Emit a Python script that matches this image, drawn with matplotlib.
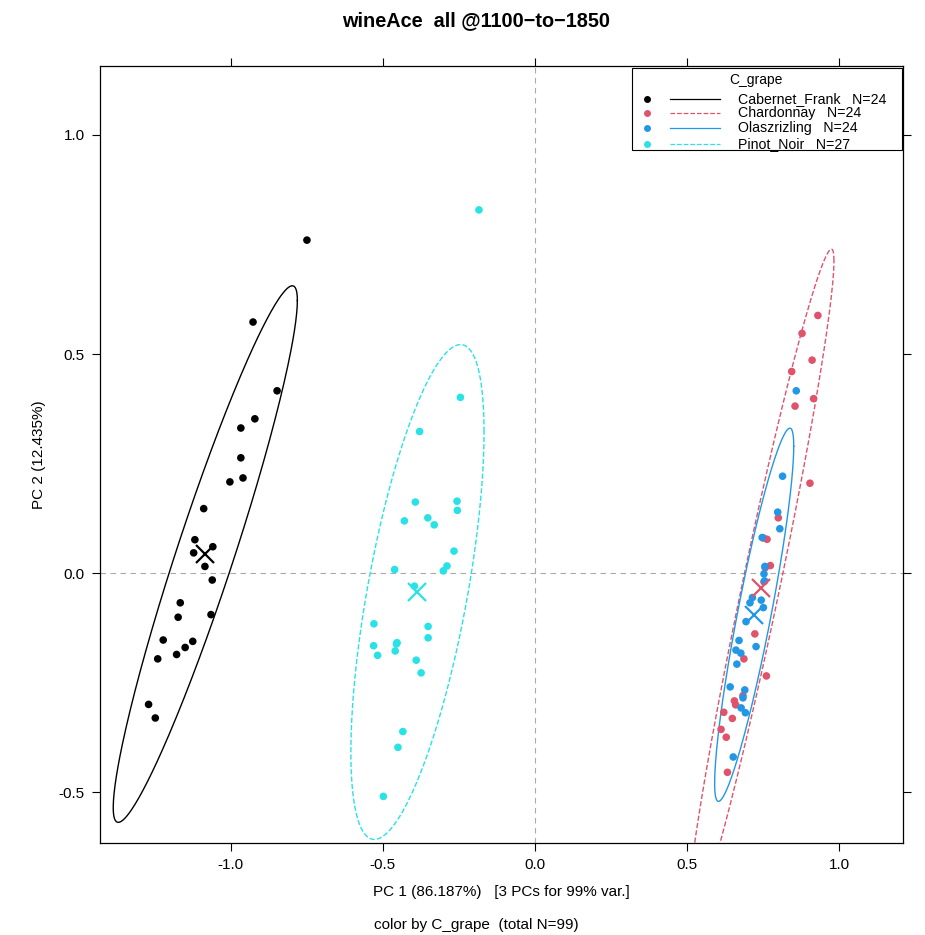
import numpy as np
import matplotlib
matplotlib.use("Agg")
import matplotlib.pyplot as plt

plt.rcParams['font.family'] = ['Liberation Sans', 'DejaVu Sans']

# PCA scores, one pair of arrays per grape
groups = ["Cabernet_Frank", "Chardonnay", "Olaszrizling", "Pinot_Noir"]
colors = ["#000000", "#DF536B", "#2297E6", "#28E2E5"]
styles = ["-", "--", "-", "--"]

cab_x = [-0.749, -0.926, -0.847, -0.920, -0.966, -0.966, -0.959, -1.002, -1.088, -1.117,
         -1.058, -1.121, -1.084, -1.060, -1.165, -1.172, -1.064, -1.221, -1.124, -1.149,
         -1.177, -1.239, -1.269, -1.247]
cab_y = [0.760, 0.573, 0.416, 0.352, 0.331, 0.263, 0.217, 0.208, 0.147, 0.076,
         0.060, 0.046, 0.015, -0.016, -0.068, -0.101, -0.095, -0.153, -0.156, -0.170,
         -0.186, -0.196, -0.300, -0.331]

char_x = [0.929, 0.877, 0.910, 0.843, 0.915, 0.854, 0.903, 0.799, 0.762, 0.773,
          0.722, 0.686, 0.760, 0.683, 0.655, 0.659, 0.620, 0.648, 0.611, 0.628,
          0.632, 0.750, 0.756, 0.752]
char_y = [0.588, 0.547, 0.486, 0.460, 0.398, 0.381, 0.205, 0.126, 0.077, 0.017,
          -0.139, -0.196, -0.235, -0.280, -0.292, -0.301, -0.318, -0.332, -0.357, -0.375,
          -0.455, 0.080, 0.012, -0.020]

olasz_x = [0.858, 0.813, 0.797, 0.804, 0.746, 0.755, 0.752, 0.754, 0.714, 0.743,
           0.706, 0.750, 0.693, 0.670, 0.726, 0.660, 0.676, 0.663, 0.641, 0.689,
           0.677, 0.691, 0.651, 0.683]
olasz_y = [0.416, 0.221, 0.139, 0.101, 0.081, 0.015, -0.002, -0.018, -0.056, -0.062,
           -0.068, -0.079, -0.111, -0.154, -0.168, -0.176, -0.183, -0.208, -0.260, -0.267,
           -0.308, -0.319, -0.420, -0.285]

pinot_x = [-0.184, -0.245, -0.379, -0.393, -0.256, -0.255, -0.429, -0.352, -0.331, -0.266,
           -0.289, -0.301, -0.461, -0.396, -0.529, -0.351, -0.351, -0.530, -0.453, -0.459,
           -0.517, -0.390, -0.374, -0.434, -0.450, -0.498, -0.455]
pinot_y = [0.829, 0.401, 0.323, 0.162, 0.164, 0.143, 0.119, 0.126, 0.110, 0.050,
           0.016, 0.005, 0.008, -0.030, -0.116, -0.122, -0.148, -0.166, -0.159, -0.178,
           -0.188, -0.199, -0.228, -0.362, -0.398, -0.510, -0.162]

xs = [cab_x, char_x, olasz_x, pinot_x]
ys = [cab_y, char_y, olasz_y, pinot_y]


def robust_cov(xy, nu=5, iters=200):
    # multivariate t estimate of centre and scatter (like MASS::cov.trob)
    c = xy.mean(0)
    S = np.cov(xy.T)
    for _ in range(iters):
        d = xy - c
        m = np.einsum('ij,jk,ik->i', d, np.linalg.inv(S), d)
        w = (nu + 2) / (nu + m)
        c = (w[:, None] * xy).sum(0) / w.sum()
        d = xy - c
        S = np.einsum('i,ij,ik->jk', w, d, d) / len(xy)
    return c, S


fig = plt.figure(figsize=(9.25, 9.35), dpi=100)
ax = fig.add_axes([0.1081, 0.0984, 0.8681, 0.831])

ax.axhline(0, color="#aaaaaa", lw=0.8, ls=(0, (5, 4)), zorder=0)
ax.axvline(0, color="#aaaaaa", lw=0.8, ls=(0, (5, 4)), zorder=0)

t = np.linspace(0, 2 * np.pi, 300)
r = np.sqrt(6.84)
for x, y, col, ls in zip(xs, ys, colors, styles):
    ax.scatter(x, y, s=30, color=col, edgecolors="none", zorder=3)
    xy = np.column_stack([x, y])
    c, S = robust_cov(xy)
    L = np.linalg.cholesky(S)
    e = c[:, None] + r * L @ np.vstack([np.cos(t), np.sin(t)])
    ax.plot(e[0], e[1], color=col, ls=ls, lw=1.0, zorder=2)
    ax.plot(c[0], c[1], marker="x", ms=13, mew=1.6, color=col, zorder=4)

ax.set_xlim(-1.4286, 1.2085)
ax.set_ylim(-0.6164, 1.1575)
ax.set_xticks([-1.0, -0.5, 0.0, 0.5, 1.0])
ax.set_yticks([-0.5, 0.0, 0.5, 1.0])
ax.set_xticklabels(["-1.0", "-0.5", "0.0", "0.5", "1.0"])
ax.set_yticklabels(["-0.5", "0.0", "0.5", "1.0"])
ax.tick_params(direction="out", length=6, width=0.8, labelsize=11,
               top=True, right=True, pad=5)
for s in ax.spines.values():
    s.set_linewidth(0.9)

ax.set_xlabel("PC 1 (86.187%)   [3 PCs for 99% var.]", fontsize=11, labelpad=9)
ax.set_ylabel("PC 2 (12.435%)", fontsize=11, labelpad=9)

fig.text(0.515, 0.978, "wineAce  all @1100\u2212to\u22121850", ha="center", va="center",
         fontsize=14.3, fontweight="bold")
fig.text(0.515, 0.0107, "color by C_grape  (total N=99)", ha="center", va="center", fontsize=11)

# legend box drawn by hand, R style
tr = ax.transAxes
ax.add_patch(plt.Rectangle((0.6625, 0.8919), 0.3363, 0.1055, transform=tr,
                           fill=True, facecolor="white", edgecolor="black", lw=0.8, zorder=5))
ax.text(0.817, 0.982, "C_grape", transform=tr, ha="center", va="center", fontsize=10, zorder=6)
rows = [0.9575, 0.9395, 0.9205, 0.9000]
counts = [len(x) for x in xs]
for g, col, ls, yy, n in zip(groups, colors, styles, rows, counts):
    ax.plot([0.6806], [yy], marker="o", ms=5, color=col, mec="none", transform=tr, zorder=6)
    ax.plot([0.7098, 0.7721], [yy, yy], color=col, ls=ls, lw=0.9, transform=tr, zorder=6)
    ax.text(0.7945, yy, f"{g}   N={n}", transform=tr, va="center", fontsize=10.2, zorder=6)

fig.savefig("out.png", dpi=100)
